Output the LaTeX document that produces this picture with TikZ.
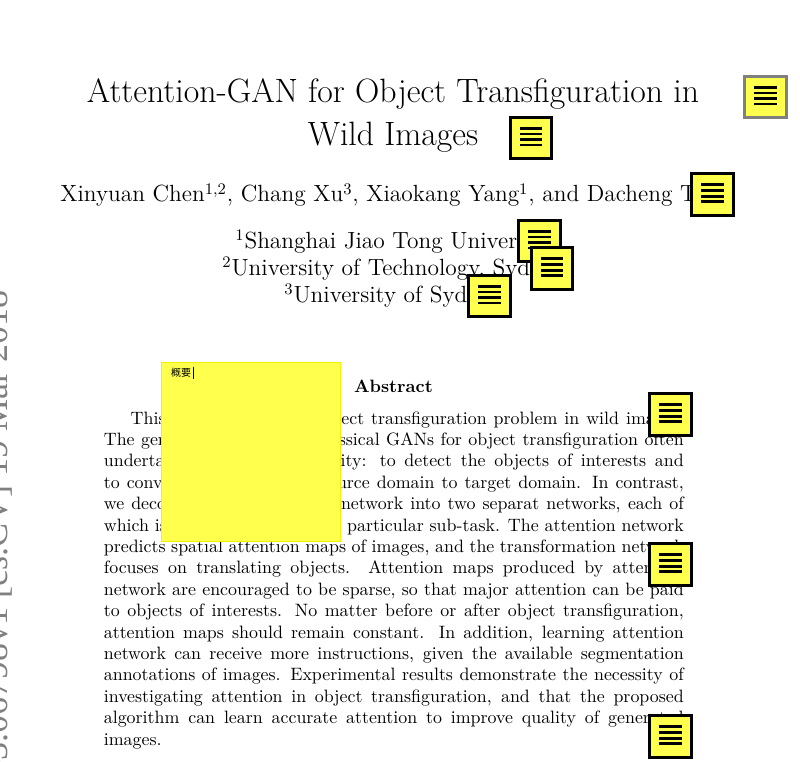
\documentclass[tikz,border=0pt]{standalone}
\usepackage{fontspec}
\newfontfamily\cjkfont{Noto Sans CJK SC}
\newfontfamily\stampfont{Liberation Serif}
\definecolor{noteyellow}{HTML}{FFFF4D}
\definecolor{noteedge}{HTML}{F2F200}
\newcommand{\fullline}[1]{\hbox to 324pt{#1}}
\tikzset{
  pagetext/.style={anchor=base west, inner sep=0pt, scale=1.79, transform shape},
  midtext/.style={anchor=base, inner sep=0pt, scale=1.79, transform shape},
  noteicon/.style={draw=black, line width=3.2pt, fill=noteyellow, minimum size=41.5pt, inner sep=0pt,
    path picture={
      \foreach \barpos in {-9.7, -4.0, 1.7, 7.0}
        \draw[black, line width=2.7pt] (-11.2, \barpos) -- (11.2, \barpos);
    }},
  fadedicon/.style={noteicon, draw=black!50}
}
\begin{document}
\begin{tikzpicture}[x=1pt, y=-1pt]
  \useasboundingbox (0, 0) rectangle (800, 762);
  \node[anchor=base east, inner sep=0pt, rotate=90, text=black!50, font=\stampfont\fontsize{36}{40}\selectfont] (stamp) at (8, 290) {arXiv:1803.06798v1 [cs.CV] 19 Mar 2018};

  \node[midtext, font=\fontsize{18.85}{22}\selectfont] (title1) at (393, 103) {Attention-GAN for Object Transfiguration in};
  \node[midtext, font=\fontsize{18.85}{22}\selectfont] (title2) at (393, 146) {Wild Images};
  \node[pagetext, font=\fontsize{13.07}{15}\selectfont] (authors) at (60, 202) {Xinyuan Chen$^{1,2}$, Chang Xu$^{3}$, Xiaokang Yang$^{1}$, and Dacheng Tao$^{3}$};
  \node[pagetext, font=\fontsize{13.07}{15}\selectfont] (aff1) at (235, 248) {$^{1}$Shanghai Jiao Tong University};
  \node[pagetext, font=\fontsize{13.07}{15}\selectfont] (aff2) at (222, 275) {$^{2}$University of Technology, Sydney};
  \node[pagetext, font=\fontsize{13.07}{15}\selectfont] (aff3) at (284, 302.5) {$^{3}$University of Sydney};
  \node[midtext, font=\fontsize{10}{12}\selectfont\bfseries] (abshead) at (393.5, 392) {Abstract};

  \node[pagetext, font=\fontsize{10}{12}\selectfont] (abs1) at (103.5, 424) {\fullline{\hspace{15pt}This paper studies the object transfiguration problem in wild images.}};
  \node[pagetext, font=\fontsize{10}{12}\selectfont] (abs2) at (103.5, 445.4) {\fullline{The generative network in classical GANs for object transfiguration often}};
  \node[pagetext, font=\fontsize{10}{12}\selectfont] (abs3) at (103.5, 466.8) {\fullline{undertakes a dual responsibility: to detect the objects of interests and}};
  \node[pagetext, font=\fontsize{10}{12}\selectfont] (abs4) at (103.5, 488.2) {\fullline{to convert the object from source domain to target domain. In contrast,}};
  \node[pagetext, font=\fontsize{10}{12}\selectfont] (abs5) at (103.5, 509.6) {\fullline{we decompose the generative network into two separat networks, each of}};
  \node[pagetext, font=\fontsize{10}{12}\selectfont] (abs6) at (103.5, 531) {\fullline{which is only dedicated to one particular sub-task. The attention network}};
  \node[pagetext, font=\fontsize{10}{12}\selectfont] (abs7) at (103.5, 552.4) {\fullline{predicts spatial attention maps of images, and the transformation network}};
  \node[pagetext, font=\fontsize{10}{12}\selectfont] (abs8) at (103.5, 573.8) {\fullline{focuses on translating objects. Attention maps produced by attention}};
  \node[pagetext, font=\fontsize{10}{12}\selectfont] (abs9) at (103.5, 595.2) {\fullline{network are encouraged to be sparse, so that major attention can be paid}};
  \node[pagetext, font=\fontsize{10}{12}\selectfont] (abs10) at (103.5, 616.6) {\fullline{to objects of interests. No matter before or after object transfiguration,}};
  \node[pagetext, font=\fontsize{10}{12}\selectfont] (abs11) at (103.5, 638) {\fullline{attention maps should remain constant. In addition, learning attention}};
  \node[pagetext, font=\fontsize{10}{12}\selectfont] (abs12) at (103.5, 659.4) {\fullline{network can receive more instructions, given the available segmentation}};
  \node[pagetext, font=\fontsize{10}{12}\selectfont] (abs13) at (103.5, 680.8) {\fullline{annotations of images. Experimental results demonstrate the necessity of}};
  \node[pagetext, font=\fontsize{10}{12}\selectfont] (abs14) at (103.5, 702.2) {\fullline{investigating attention in object transfiguration, and that the proposed}};
  \node[pagetext, font=\fontsize{10}{12}\selectfont] (abs15) at (103.5, 723.6) {\fullline{algorithm can learn accurate attention to improve quality of generated}};
  \node[pagetext, font=\fontsize{10}{12}\selectfont] (abs16) at (103.5, 745) {images.};

  \node[draw=noteedge, line width=0.8pt, fill=noteyellow, minimum size=179pt, inner sep=0pt] (sticky) at (251, 452) {};
  \node[anchor=base west, inner sep=0pt, font=\cjkfont\fontsize{10}{12}\selectfont] (stickytext) at (171, 376) {概要};
  \draw[black, line width=0.6pt] (193, 366.5) -- (193, 378.5);

  \node[fadedicon] (note1) at (765.5, 97) {};
  \node[noteicon] (note2) at (531, 138) {};
  \node[noteicon] (note3) at (712.5, 194.5) {};
  \node[noteicon] (note4) at (539.5, 241) {};
  \node[noteicon] (note5) at (552, 268.5) {};
  \node[noteicon] (note6) at (489.5, 296) {};
  \node[noteicon] (note7) at (670.5, 414.5) {};
  \node[noteicon] (note8) at (670.5, 564.5) {};
  \node[noteicon] (note9) at (670.5, 736.5) {};
\end{tikzpicture}
\end{document}
